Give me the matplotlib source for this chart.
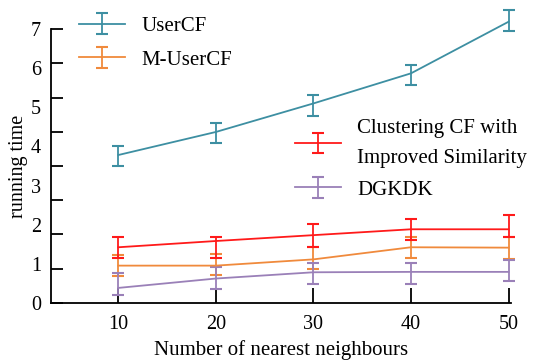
import matplotlib
matplotlib.use("Agg")
import matplotlib.pyplot as plt
import numpy as np

plt.rcParams['font.family'] = ['Liberation Serif', 'DejaVu Serif']

# 近傍数
neighbours = [10, 20, 30, 40, 50]

# 中心値・下端・上端
usercf = [3.78, 4.37, 5.10, 5.87, 7.19]
usercf_lo = [3.50, 4.09, 4.78, 5.56, 6.96]
usercf_hi = [4.02, 4.60, 5.32, 6.09, 7.49]

m_usercf = [0.95, 0.95, 1.11, 1.42, 1.41]
m_usercf_lo = [0.68, 0.71, 0.87, 1.15, 1.13]
m_usercf_hi = [1.23, 1.25, 1.42, 1.68, 1.69]

clustering = [1.42, 1.58, 1.73, 1.88, 1.88]
clustering_lo = [1.14, 1.14, 1.42, 1.61, 1.69]
clustering_hi = [1.69, 1.69, 2.01, 2.15, 2.24]

dgkdk = [0.38, 0.62, 0.78, 0.79, 0.79]
dgkdk_lo = [0.20, 0.36, 0.48, 0.48, 0.56]
dgkdk_hi = [0.75, 0.91, 1.03, 1.02, 1.09]

y_labels = ['0', '1', '2', '3', '4', '5', '6', '7']


def 誤差(中心, 下, 上):
    中心 = np.array(中心)
    return [中心 - np.array(下), np.array(上) - 中心]


fig = plt.figure(figsize=(5.34, 3.6), dpi=100)
ax = fig.add_axes([0.095, 0.159, 0.861, 0.760])

系列 = [
    (usercf, usercf_lo, usercf_hi, '#3d8fa2', 'UserCF'),
    (m_usercf, m_usercf_lo, m_usercf_hi, '#f08a3c', 'M-UserCF'),
    (clustering, clustering_lo, clustering_hi, '#ff1a1a', 'Clustering CF with\nImproved Similarity'),
    (dgkdk, dgkdk_lo, dgkdk_hi, '#9a80b8', 'DGKDK'),
]
handles = []
for 中心, 下, 上, 色, 名前 in 系列:
    h = ax.errorbar(neighbours, 中心, yerr=誤差(中心, 下, 上), color=色,
                    lw=1.3, elinewidth=1.3, capsize=4, capthick=1.5,
                    label=名前, clip_on=False, zorder=3)
    handles.append(h)

ax.set_xlim(3.07, 50.2)
ax.set_ylim(0, 7)

for s in ['top', 'right']:
    ax.spines[s].set_visible(False)
for s in ['left', 'bottom']:
    ax.spines[s].set_linewidth(1.3)

ax.set_xticks(neighbours)
ax.tick_params(axis='x', direction='in', length=11, width=1.3, labelsize=14.5, pad=9)
ax.yaxis.remove_overlapping_locs = False
ax.set_yticks(np.linspace(0, 7, 9))
ax.set_yticklabels([])
ax.tick_params(axis='y', which='major', direction='in', length=8.5, width=1.3)
ax.set_yticks(range(8), minor=True)
ax.set_yticklabels(y_labels, minor=True)
ax.tick_params(axis='y', which='minor', length=0, labelsize=14.5, pad=7)

ax.set_xlabel('Number of nearest neighbours', fontsize=15, labelpad=4)
ax.set_ylabel('running time', fontsize=14.5, labelpad=2)

leg1 = ax.legend(handles=handles[:2], loc='upper left', bbox_to_anchor=(0.02, 1.115),
                 frameon=False, fontsize=15, handlelength=2.2, labelspacing=0.68)
ax.add_artist(leg1)
leg2 = ax.legend(handles=handles[2:], loc='upper left', bbox_to_anchor=(0.49, 0.74),
                 frameon=False, fontsize=15, handlelength=2.2, labelspacing=0.6)
for t in leg2.get_texts():
    t.set_linespacing(1.75)

fig.savefig('out.png', dpi=100)
